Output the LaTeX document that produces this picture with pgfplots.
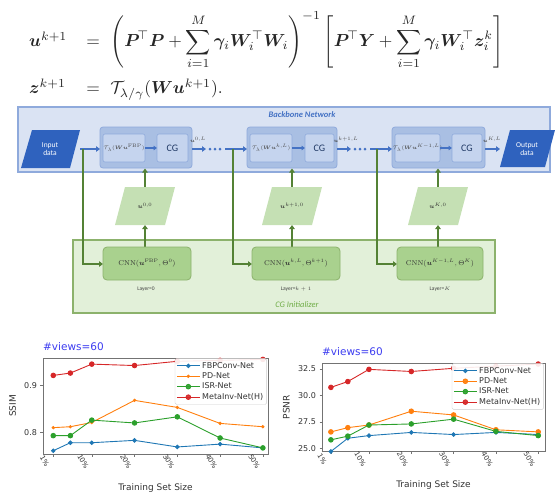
\documentclass[border=0pt]{standalone}
\usepackage[no-math]{fontspec}
\usepackage{amsmath,bm}
\usepackage{graphicx}
\usepackage{pgfplots}
\pgfplotsset{compat=1.18}
\usetikzlibrary{arrows.meta}
\newfontfamily\calib{Carlito}
\newfontfamily\dv{DejaVu Sans}
\definecolor{bbfill}{HTML}{DAE3F3}
\definecolor{bbdraw}{HTML}{8FAADC}
\definecolor{blkfill}{HTML}{A9BFE3}
\definecolor{innerfill}{HTML}{C5D4EE}
\definecolor{iodark}{HTML}{2F62BE}
\definecolor{arrblue}{HTML}{4472C4}
\definecolor{arrgreen}{HTML}{548235}
\definecolor{cgfill}{HTML}{E2F0D9}
\definecolor{cgdraw}{HTML}{8CB26C}
\definecolor{cnnfill}{HTML}{A9D18E}
\definecolor{ufill}{HTML}{C5E0B4}
\definecolor{cgtext}{HTML}{70AD47}
\definecolor{cgword}{HTML}{1F3864}
\definecolor{mblue}{HTML}{1F77B4}
\definecolor{morange}{HTML}{FF7F0E}
\definecolor{mgreen}{HTML}{2CA02C}
\definecolor{mred}{HTML}{D62728}
\definecolor{titleblue}{HTML}{3C3CF0}

\pgfplotstableread{
x fbp pd isr meta
1  0.761 0.810 0.793 0.921
5  0.778 0.812 0.793 0.926
10 0.778 0.821 0.826 0.945
20 0.783 0.868 0.820 0.942
30 0.769 0.853 0.833 0.951
40 0.775 0.819 0.788 0.953
50 0.767 0.812 0.767 0.955
}\ssimtab
\pgfplotstableread{
x fbp pd isr meta
1  24.70 26.55 25.80 30.75
5  25.95 26.95 26.15 31.30
10 26.20 27.20 27.20 32.45
20 26.50 28.50 27.30 32.25
30 26.30 28.15 27.75 32.55
40 26.50 26.75 26.60 32.75
50 26.30 26.55 26.20 32.95
}\psnrtab

\pgfplotsset{mystyle/.style={
  scale only axis, anchor=north west,
  axis line style={black!55},
  tick align=outside, major tick length=2.5pt,
  xtick pos=left, ytick pos=left,
  tick style={black!55, line width=0.5pt},
  xtick={1,10,20,30,40,50},
  xticklabels={1\%,10\%,20\%,30\%,40\%,50\%},
  xticklabel style={font=\dv\fontsize{7}{8}\selectfont, rotate=-60, anchor=center, yshift=-10pt, text=black!80},
  yticklabel style={font=\dv\fontsize{8}{9}\selectfont, text=black!80},
  /pgf/number format/assume math mode=true,
  xlabel={Training Set Size},
  xlabel style={font=\dv\fontsize{9}{10}\selectfont, at={(axis description cs:0.5,0)}, anchor=center, yshift=-34pt, text=black!80},
  ylabel style={font=\dv\fontsize{9}{10}\selectfont, anchor=center, text=black!80},
  title style={font=\dv\fontsize{10.5}{11}\selectfont, text=titleblue, at={(axis description cs:0,1)}, anchor=south west, inner sep=0pt, yshift=1pt},
  title={\#views=60},
  legend style={at={(0.995,0.995)}, anchor=north east, font=\dv\fontsize{8}{9}\selectfont,
    draw=black!20, fill=white, fill opacity=0.9, text opacity=1, draw opacity=1,
    rounded corners=1.5pt, inner sep=1.5pt, row sep=-1pt, text=black!80},
  legend cell align=left,
  legend image code/.code={\draw[mark repeat=2,mark phase=2] plot coordinates {(0cm,0cm) (0.4cm,0cm) (0.8cm,0cm)};},
  every axis plot/.append style={line width=0.9pt, mark=*, mark size=2.3pt},
}}

\begin{document}
\begin{tikzpicture}[x=1pt,y=-1pt]
\path[use as bounding box] (0,0) rectangle (555,496);

% ---------- equations ----------
\node[anchor=north west, inner sep=0pt, text=black!85] at (29,11) {\resizebox{474pt}{!}{$\begin{array}{@{}l@{\hspace{11pt}}c@{\hspace{6pt}}l@{}}
\bm{u}^{k+1} & = & \displaystyle\left(\bm{P}^{\!\top}\bm{P}+\sum_{i=1}^{M}\bm{\gamma}_i\bm{W}_i^{\top}\bm{W}_i\right)^{-1}\left[\bm{P}^{\!\top}\bm{Y}+\sum_{i=1}^{M}\bm{\gamma}_i\bm{W}_i^{\top}\bm{z}_i^{k}\right]\\[15pt]
\bm{z}^{k+1} & = & \mathcal{T}_{\lambda/\gamma}(\bm{W}\bm{u}^{k+1}).
\end{array}$}};

% ---------- backbone ----------
\draw[bbdraw, line width=1.2pt, fill=bbfill] (18,107) rectangle (550,172);
\node[font=\calib\bfseries\itshape\fontsize{8.5}{10}\selectfont, text=arrblue] at (302,115) {Backbone Network};

\foreach \a/\b in {100/192, 247/337, 392/485}
  \draw[bbdraw, fill=blkfill, rounded corners=3pt, line width=0.8pt] (\a,127) rectangle (\b,168);
\foreach \a/\b in {103/145, 157/188, 250/292, 305/334, 395/440, 452/482}
  \draw[bbdraw, fill=innerfill, rounded corners=2pt, line width=0.6pt] (\a,134) rectangle (\b,162);

\node[font=\fontsize{4.5}{5}\selectfont, text=black!70] at (124,148) {$\mathcal{T}_\lambda(\bm{W}\bm{u}^{\mathrm{FBP}})$};
\node[font=\fontsize{4.5}{5}\selectfont, text=black!70] at (271,148) {$\mathcal{T}_\lambda(\bm{W}\bm{u}^{k,L})$};
\node[font=\fontsize{4.2}{5}\selectfont, text=black!70] at (417.5,148) {$\mathcal{T}_\lambda(\bm{W}\bm{u}^{K-1,L})$};
\foreach \c in {172.5, 319.5, 467}
  \node[font=\calib\fontsize{10}{12}\selectfont, text=cgword] at (\c,148) {CG};
\foreach \a/\b in {145/157, 292/305, 440/452}
  \draw[arrblue, line width=1.5pt, -{Triangle[length=3.5pt,width=4.5pt]}] (\a,148) -- (\b,148);

% input / output
\fill[iodark] (32,130) -- (80,130) -- (70,168) -- (21,168) -- cycle;
\node[font=\calib\fontsize{7.5}{8.5}\selectfont, text=white, align=center] at (50,149) {Input\\data};
\fill[iodark] (510,130) -- (555,130) -- (545,167) -- (500,167) -- cycle;
\node[font=\calib\fontsize{7.5}{8.5}\selectfont, text=white, align=center] at (527,149) {Output\\data};

% blue main arrows
\begin{scope}[arrblue, line width=2pt]
\draw[-{Triangle[length=4pt,width=5.5pt]}] (80,149) -- (100,149);
\draw[-{Triangle[length=4pt,width=5.5pt]}] (192,149) -- (206,149);
\foreach \x in {210,215,220} \fill (\x,149) circle (1.5pt);
\draw[-{Triangle[length=4pt,width=5.5pt]}] (225,149) -- (247,149);
\draw[-{Triangle[length=4pt,width=5.5pt]}] (337,149) -- (351,149);
\foreach \x in {355,360,365} \fill (\x,149) circle (1.5pt);
\draw[-{Triangle[length=4pt,width=5.5pt]}] (370,149) -- (392,149);
\draw[-{Triangle[length=4pt,width=5.5pt]}] (485,149) -- (500,149);
\end{scope}
\node[font=\fontsize{4.5}{5}\selectfont, text=black!70] at (198,140) {$\bm{u}^{0,L}$};
\node[font=\fontsize{4.5}{5}\selectfont, text=black!70] at (346,140) {$\bm{u}^{k+1,L}$};
\node[font=\fontsize{4.5}{5}\selectfont, text=black!70] at (492,140) {$\bm{u}^{K,L}$};

% ---------- CG initializer ----------
\draw[cgdraw, line width=1.2pt, fill=cgfill] (73,240) rectangle (495,313);
\node[font=\calib\itshape\fontsize{8.5}{10}\selectfont, text=cgtext] at (297,305) {CG Initializer};

\begin{scope}[arrgreen, line width=2pt]
\draw[-{Triangle[length=4pt,width=5.5pt]}] (83,149) -- (83,264) -- (103,264);
\draw[-{Triangle[length=4pt,width=5.5pt]}] (233,149) -- (233,264) -- (252,264);
\draw[-{Triangle[length=4pt,width=5.5pt]}] (377,149) -- (377,264) -- (397,264);
\foreach \c in {145,292,438} {
  \draw[-{Triangle[length=4pt,width=5.5pt]}] (\c,247) -- (\c,225);
  \draw[-{Triangle[length=4pt,width=5.5pt]}] (\c,187) -- (\c,168.5);
}
\end{scope}

\foreach \c in {145,292,438}
  \fill[ufill] (\c-20,187) -- (\c+30,187) -- (\c+20,225) -- (\c-30,225) -- cycle;
\node[font=\fontsize{6.5}{7}\selectfont, text=black!80] at (145,206) {$\bm{u}^{0,0}$};
\node[font=\fontsize{6.5}{7}\selectfont, text=black!80] at (292,206) {$\bm{u}^{k+1,0}$};
\node[font=\fontsize{6.5}{7}\selectfont, text=black!80] at (438,206) {$\bm{u}^{K,0}$};

\foreach \a/\b in {103/191, 252/340, 397/483}
  \draw[cgdraw, fill=cnnfill, rounded corners=4pt, line width=0.8pt] (\a,247) rectangle (\b,280);
\node[font=\fontsize{7}{8}\selectfont, text=black!80] at (147,263.5) {CNN$(\bm{u}^{\mathrm{FBP}},\Theta^{0})$};
\node[font=\fontsize{7}{8}\selectfont, text=black!80] at (296,263.5) {CNN$(\bm{u}^{k,L},\Theta^{k+1})$};
\node[font=\fontsize{7}{8}\selectfont, text=black!80] at (440,263.5) {CNN$(\bm{u}^{K-1,L},\Theta^{K})$};
\node[font=\calib\fontsize{5.5}{6}\selectfont, text=black!75] at (146,289) {Layer=0};
\node[font=\calib\fontsize{5.5}{6}\selectfont, text=black!75] at (296,289) {Layer=$k+1$};
\node[font=\calib\fontsize{5.5}{6}\selectfont, text=black!75] at (440,289) {Layer=$K$};

% ---------- SSIM chart ----------
\begin{axis}[mystyle, at={(43pt,-358pt)}, width=225pt, height=96pt,
  xmin=-1.4, xmax=51.2, ymin=0.754, ymax=0.958,
  ytick={0.8,0.9}, yticklabels={0.8,0.9},
  ylabel={SSIM}, ylabel style={at={(axis description cs:-0.135,0.5)}}]
\addplot[mblue, mark size=1.8pt] table[x=x,y=fbp] {\ssimtab};
\addplot[morange, mark size=1.2pt] table[x=x,y=pd] {\ssimtab};
\addplot[mgreen] table[x=x,y=isr] {\ssimtab};
\addplot[mred] table[x=x,y=meta] {\ssimtab};
\legend{FBPConv-Net,PD-Net,ISR-Net,MetaInv-Net(H)}
\end{axis}

% ---------- PSNR chart ----------
\begin{axis}[mystyle, at={(322pt,-363pt)}, width=223pt, height=88.5pt,
  xmin=-1.1, xmax=51.6, ymin=24.7, ymax=33.05,
  ytick={25,27.5,30,32.5}, yticklabels={25.0,27.5,30.0,32.5},
  ylabel={PSNR}, ylabel style={at={(axis description cs:-0.16,0.5)}}]
\addplot[mblue, mark size=1.8pt] table[x=x,y=fbp] {\psnrtab};
\addplot[morange] table[x=x,y=pd] {\psnrtab};
\addplot[mgreen] table[x=x,y=isr] {\psnrtab};
\addplot[mred] table[x=x,y=meta] {\psnrtab};
\legend{FBPConv-Net,PD-Net,ISR-Net,MetaInv-Net(H)}
\end{axis}
\end{tikzpicture}
\end{document}
